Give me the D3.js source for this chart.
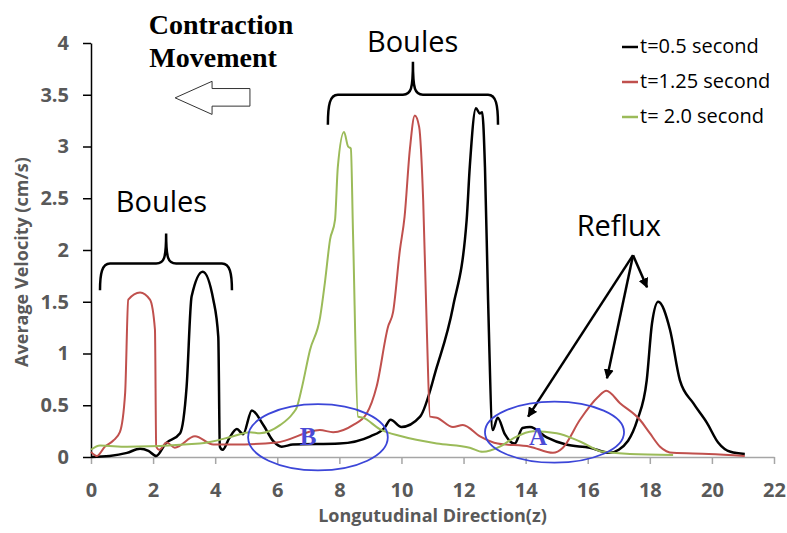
<!DOCTYPE html>
<html>
<head>
<meta charset="utf-8">
<script src="https://cdn.jsdelivr.net/npm/d3@7"></script>
<style>
  body { margin: 0; background: #fff; }
  svg { display: block; }
</style>
</head>
<body>
<script>
// series: [z, velocity]
const seriesNames = ["t=0.5 second", "t=1.25 second", "t= 2.0 second"];

const black05 = [
  [0, 0], [0.6, 0.01], [1.16, 0.04], [1.58, 0.08], [1.85, 0.06], [2.1, 0.01],
  [2.4, 0.13], [2.87, 0.23], [3.08, 0.68], [3.24, 1.55], [3.6, 1.79], [3.94, 1.52],
  [4.1, 1.16], [4.15, 0.1], [4.24, 0.07], [4.45, 0.18], [4.7, 0.27], [4.9, 0.22],
  [5.18, 0.45], [5.55, 0.31], [5.88, 0.15], [6.14, 0.1], [6.5, 0.12], [8.0, 0.13],
  [9.0, 0.2], [9.45, 0.28], [9.65, 0.36], [10.0, 0.29], [10.6, 0.39], [11.14, 0.87],
  [11.66, 1.45], [12.1, 2.29], [12.2, 2.8], [12.4, 3.37], [12.52, 3.32], [12.6, 3.33],
  [12.69, 2.8], [12.79, 1.52], [12.94, 0.26], [13.1, 0.38], [13.33, 0.22], [13.65, 0.13],
  [13.9, 0.28], [14.14, 0.29], [14.68, 0.19], [15.3, 0.12], [16.07, 0.09], [16.7, 0.04],
  [17.0, 0.07], [17.6, 0.36], [17.9, 0.74], [18.07, 1.29], [18.27, 1.5], [18.65, 1.23],
  [18.97, 0.74], [19.4, 0.52], [19.84, 0.33], [20.2, 0.14], [20.6, 0.05], [21.06, 0.03]
];

const red125 = [
  [0, 0.05], [0.19, 0.01], [0.45, 0.1], [0.72, 0.16], [0.93, 0.24], [1.1, 0.62],
  [1.2, 1.52], [1.58, 1.59], [1.9, 1.52], [2.06, 1.23], [2.1, 0.1], [2.2, 0.07],
  [2.44, 0.14], [2.7, 0.09], [3.35, 0.2], [3.94, 0.12], [4.58, 0.12], [5.98, 0.14],
  [7.37, 0.26], [7.8, 0.24], [8.45, 0.31], [8.88, 0.42], [9.2, 0.68], [9.57, 1.26],
  [9.73, 1.4], [9.95, 2.0], [10.1, 2.32], [10.27, 2.97], [10.43, 3.3], [10.57, 3.19],
  [10.7, 2.48], [10.82, 1.2], [10.92, 0.39], [11.14, 0.38], [11.66, 0.29], [11.98, 0.31],
  [12.53, 0.2], [13.1, 0.13], [14.14, 0.1], [14.88, 0.04], [15.2, 0.09], [15.75, 0.36],
  [16.33, 0.58], [16.6, 0.64], [17.04, 0.52], [17.68, 0.36], [18.0, 0.23], [18.33, 0.1],
  [18.75, 0.04], [19.9, 0.03], [21.06, 0.01]
];

const green20 = [
  [0, 0.07], [0.29, 0.11], [1.16, 0.1], [3.5, 0.13], [4.58, 0.2], [5.12, 0.24],
  [5.44, 0.23], [6.1, 0.31], [6.5, 0.42], [6.63, 0.48], [6.8, 0.68], [7.05, 1.03],
  [7.38, 1.35], [7.54, 1.7], [7.7, 2.1], [7.86, 2.29], [7.95, 2.8], [8.15, 3.14],
  [8.28, 3.0], [8.37, 2.98], [8.44, 2.16], [8.6, 0.39], [8.76, 0.38], [9.3, 0.27],
  [10.0, 0.2], [11.14, 0.13], [12.2, 0.09], [12.62, 0.05], [13.17, 0.1], [13.6, 0.18],
  [14.24, 0.25], [15.0, 0.23], [15.75, 0.15], [16.49, 0.05], [17.36, 0.03], [18.75, 0.02]
];

const xTicks = d3.range(0, 23, 2);
const yTicks = [0, 0.5, 1, 1.5, 2, 2.5, 3, 3.5, 4];

// set svg width and height
const width = 787,
  height = 533;
const margin = { top: 43, right: 13, bottom: 76, left: 91 };
const innerWidth = width - margin.left - margin.right;
const innerHeight = height - margin.top - margin.bottom;

const xScale = d3.scaleLinear().domain([0, 22]).range([0, innerWidth]);
const yScale = d3.scaleLinear().domain([0, 4]).range([innerHeight, 0]);

const colors = d3
  .scaleOrdinal()
  .domain(seriesNames)
  .range(["#000000", "#c0504d", "#9bbb59"]);

const svg = d3
  .select("body")
  .append("svg")
  .attr("width", width)
  .attr("height", height);

const mainG = svg
  .append("g")
  .attr("transform", `translate(${margin.left},${margin.top})`);

// axes
const xAxis = d3
  .axisBottom(xScale)
  .tickValues(xTicks)
  .tickSize(7)
  .tickPadding(19)
  .tickSizeOuter(0);

const yAxis = d3
  .axisLeft(yScale)
  .tickValues(yTicks)
  .tickFormat(d3.format("~g"))
  .tickSize(8)
  .tickPadding(14)
  .tickSizeOuter(0);

const gx = mainG
  .append("g")
  .attr("transform", `translate(0,${innerHeight})`)
  .call(xAxis);
gx.select(".domain").attr("stroke", "#a6a6a6").attr("stroke-width", 1.5);
gx.selectAll(".tick line").attr("stroke", "#a6a6a6").attr("stroke-width", 1.5);

const gy = mainG.append("g").call(yAxis);
gy.select(".domain").attr("stroke", "#000").attr("stroke-width", 1.5);
gy.selectAll(".tick line").attr("stroke", "#000").attr("stroke-width", 1.5);

mainG
  .selectAll(".tick text")
  .attr("font-family", "'Open Sans', sans-serif")
  .attr("font-weight", "bold")
  .attr("font-size", 20)
  .attr("fill", "#595959");

// axis titles
mainG
  .append("text")
  .attr("x", innerWidth / 2)
  .attr("y", innerHeight + 65)
  .attr("text-anchor", "middle")
  .attr("font-family", "'Open Sans', sans-serif")
  .attr("font-weight", "bold")
  .attr("font-size", 18)
  .attr("fill", "#595959")
  .text("Longutudinal Direction(z)");

mainG
  .append("text")
  .attr("transform", `translate(${-margin.left + 28},${innerHeight / 2 + 12}) rotate(-90)`)
  .attr("text-anchor", "middle")
  .attr("font-family", "'Open Sans', sans-serif")
  .attr("font-weight", "bold")
  .attr("font-size", 18)
  .attr("fill", "#595959")
  .text("Average Velocity (cm/s)");

// lines
const line = d3
  .line()
  .x((d) => xScale(d[0]))
  .y((d) => yScale(d[1]))
  .curve(d3.curveMonotoneX);

const allSeries = [
  { name: seriesNames[0], values: black05, w: 2.5 },
  { name: seriesNames[1], values: red125, w: 2 },
  { name: seriesNames[2], values: green20, w: 2 }
];

mainG
  .selectAll(".series")
  .data(allSeries)
  .enter()
  .append("path")
  .attr("class", "series")
  .attr("fill", "none")
  .attr("stroke", (d) => colors(d.name))
  .attr("stroke-width", (d) => d.w)
  .attr("stroke-linejoin", "round")
  .attr("d", (d) => line(d.values));

// legend
const legend = mainG
  .append("g")
  .attr("transform", `translate(${innerWidth - 152},4)`)
  .selectAll("g")
  .data(seriesNames)
  .enter()
  .append("g")
  .attr("transform", (d, i) => `translate(0,${i * 35})`);

legend
  .append("line")
  .attr("x1", 0)
  .attr("x2", 16)
  .attr("stroke", (d) => colors(d))
  .attr("stroke-width", 2.5);

legend
  .append("text")
  .attr("x", 18)
  .attr("dy", "0.32em")
  .attr("font-family", "'Open Sans', sans-serif")
  .attr("font-size", 20)
  .attr("fill", "#000")
  .text((d) => d);

// ----- annotations (placed in data units) -----
const X = xScale, Y = yScale;

function brace(x0, x1, xm, yEnd, yBar, yTip) {
  const r = 10;
  return `M${X(x0)},${Y(yEnd)}
    C${X(x0)},${Y(yBar) + r} ${X(x0) + 2},${Y(yBar)} ${X(x0) + r},${Y(yBar)}
    H${X(xm) - r}
    C${X(xm) - 2},${Y(yBar)} ${X(xm)},${Y(yBar) - 5} ${X(xm)},${Y(yTip)}
    C${X(xm)},${Y(yBar) - 5} ${X(xm) + 2},${Y(yBar)} ${X(xm) + r},${Y(yBar)}
    H${X(x1) - r}
    C${X(x1) - 2},${Y(yBar)} ${X(x1)},${Y(yBar) + r} ${X(x1)},${Y(yEnd)}`;
}

const ann = mainG.append("g");

ann
  .append("path")
  .attr("d", brace(0.29, 4.54, 2.42, 1.61, 1.87, 2.16))
  .attr("fill", "none")
  .attr("stroke", "#000")
  .attr("stroke-width", 2.5);

ann
  .append("path")
  .attr("d", brace(7.63, 13.11, 10.37, 3.21, 3.5, 3.82))
  .attr("fill", "none")
  .attr("stroke", "#000")
  .attr("stroke-width", 2.5);

const bigLabels = [
  { t: "Boules", z: 2.27, v: 2.37 },
  { t: "Boules", z: 10.36, v: 3.91 },
  { t: "Reflux", z: 17.0, v: 2.14 }
];
ann
  .selectAll(".big")
  .data(bigLabels)
  .enter()
  .append("text")
  .attr("x", (d) => X(d.z))
  .attr("y", (d) => Y(d.v))
  .attr("text-anchor", "middle")
  .attr("font-family", "'Open Sans', sans-serif")
  .attr("font-size", 29)
  .attr("fill", "#000")
  .text((d) => d.t);

// contraction movement
const cm = ann
  .append("text")
  .attr("font-family", "'Liberation Serif', 'Times New Roman', serif")
  .attr("font-weight", "bold")
  .attr("font-size", 28)
  .attr("fill", "#000");
cm.append("tspan").attr("x", X(1.86)).attr("y", Y(4.09)).text("Contraction");
cm.append("tspan").attr("x", X(1.88)).attr("y", Y(3.77)).text("Movement");

// hollow arrow pointing left
const arrowPts = [
  [2.71, 3.47], [3.9, 3.63], [3.9, 3.56], [5.12, 3.56],
  [5.12, 3.39], [3.9, 3.39], [3.9, 3.31]
];
ann
  .append("polygon")
  .attr("points", arrowPts.map((p) => [X(p[0]), Y(p[1])].join(",")).join(" "))
  .attr("fill", "#fff")
  .attr("stroke", "#333")
  .attr("stroke-width", 1);

// reflux arrows
svg
  .append("defs")
  .append("marker")
  .attr("id", "head")
  .attr("viewBox", "0 0 10 10")
  .attr("refX", 9)
  .attr("refY", 5)
  .attr("markerWidth", 4)
  .attr("markerHeight", 4)
  .attr("orient", "auto")
  .append("path")
  .attr("d", "M0,0 L10,5 L0,10 Z")
  .attr("fill", "#000");

const refluxFrom = [17.46, 1.95];
const refluxTo = [[14.08, 0.39], [16.62, 0.76], [17.91, 1.64]];
ann
  .selectAll(".rarrow")
  .data(refluxTo)
  .enter()
  .append("line")
  .attr("x1", X(refluxFrom[0]))
  .attr("y1", Y(refluxFrom[1]))
  .attr("x2", (d) => X(d[0]))
  .attr("y2", (d) => Y(d[1]))
  .attr("stroke", "#000")
  .attr("stroke-width", 2.5)
  .attr("marker-end", "url(#head)");

// ellipses A and B
const regions = [
  { t: "B", cz: 7.31, cv: 0.19, rz: 2.25, rv: 0.32, lz: 6.99, lv: 0.12 },
  { t: "A", cz: 14.93, cv: 0.24, rz: 2.24, rv: 0.295, lz: 14.4, lv: 0.12 }
];
ann
  .selectAll(".reg")
  .data(regions)
  .enter()
  .append("ellipse")
  .attr("cx", (d) => X(d.cz))
  .attr("cy", (d) => Y(d.cv))
  .attr("rx", (d) => X(d.rz) - X(0))
  .attr("ry", (d) => Y(0) - Y(d.rv))
  .attr("fill", "none")
  .attr("stroke", "#3c46d8")
  .attr("stroke-width", 1.8);

ann
  .selectAll(".regl")
  .data(regions)
  .enter()
  .append("text")
  .attr("x", (d) => X(d.lz))
  .attr("y", (d) => Y(d.lv))
  .attr("text-anchor", "middle")
  .attr("font-family", "'Liberation Serif', 'Times New Roman', serif")
  .attr("font-weight", "bold")
  .attr("font-size", 25)
  .attr("fill", "#4a4ad6")
  .text((d) => d.t);
</script>
</body>
</html>
